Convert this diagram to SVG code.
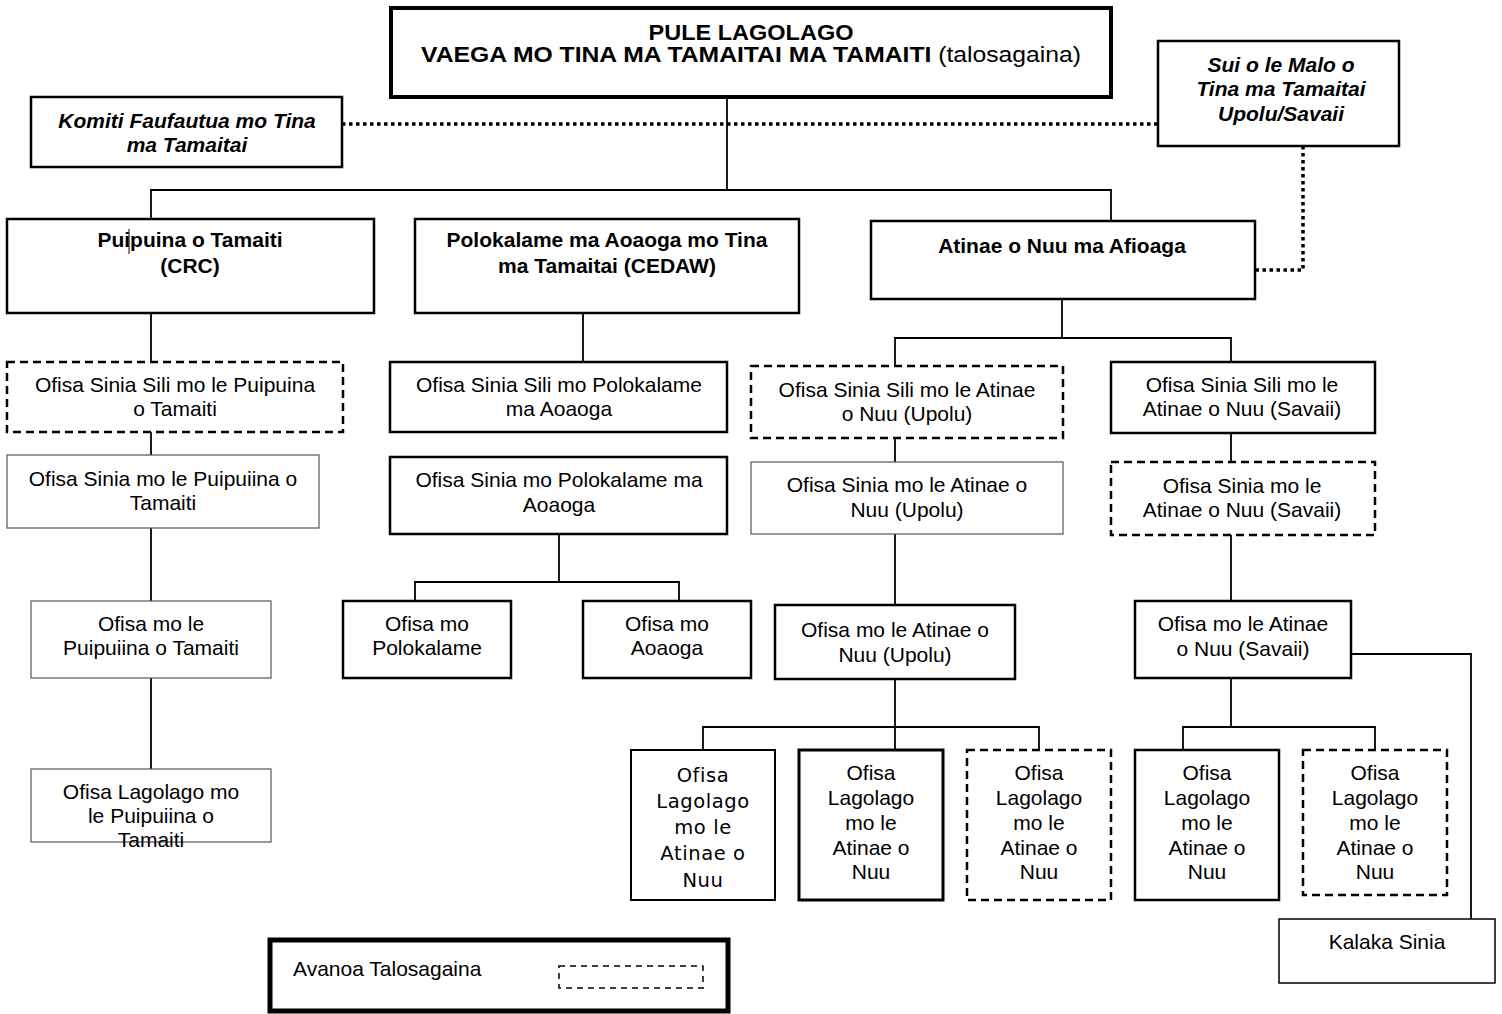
<svg xmlns="http://www.w3.org/2000/svg" width="1502" height="1014" viewBox="0 0 1502 1014">
<style>
text{font-family:"Liberation Sans",Arial,sans-serif;font-size:21px;fill:#000;text-anchor:middle}
.b{font-weight:bold}
.bi{font-weight:bold;font-style:italic}
.t{font-weight:bold;font-size:22px}
.g{font-family:"DejaVu Sans","Liberation Sans",sans-serif;font-size:19.5px;letter-spacing:0.6px}
rect{fill:#fff;stroke:#000}
.thin{stroke-width:1.2;stroke:#555}
.med{stroke-width:2.5}
.thick{stroke-width:3}
.dash{stroke-width:2.5;stroke-dasharray:8 5}
.conn line,.conn polyline{stroke:#000;stroke-width:1.8;fill:none}
.conn .dot{stroke-width:3.5;stroke-dasharray:3.5 3.5}
</style>
<rect x="0" y="0" width="1502" height="1014" style="fill:#fff;stroke:none"/>
<g class="conn" id="connectors">
<line class="dot" x1="342" y1="124" x2="1158" y2="124"/>
<polyline class="dot" points="1303,146 1303,270 1255,270"/>
<line x1="727" y1="97" x2="727" y2="190"/>
<polyline points="151,219 151,190 1111,190 1111,221"/>
<line x1="151" y1="313" x2="151" y2="362"/>
<line x1="151" y1="432" x2="151" y2="455"/>
<line x1="151" y1="528" x2="151" y2="601"/>
<line x1="151" y1="678" x2="151" y2="769"/>
<line x1="583" y1="313" x2="583" y2="362"/>
<line x1="559" y1="534" x2="559" y2="582"/>
<polyline points="415,601 415,582 679,582 679,601"/>
<line x1="1062" y1="299" x2="1062" y2="338"/>
<polyline points="895,366 895,338 1231,338 1231,362"/>
<line x1="895" y1="438" x2="895" y2="462"/>
<line x1="895" y1="534" x2="895" y2="605"/>
<line x1="895" y1="679" x2="895" y2="750"/>
<polyline points="703,750 703,727 1039,727 1039,750"/>
<line x1="1231" y1="433" x2="1231" y2="462"/>
<line x1="1231" y1="535" x2="1231" y2="601"/>
<line x1="1231" y1="678" x2="1231" y2="727"/>
<polyline points="1183,750 1183,727 1375,727 1375,750"/>
<polyline points="1351,654 1471,654 1471,919"/>
</g>
<g id="pule">
<rect x="391" y="8" width="720" height="89" style="stroke-width:4"/>
<text class="t" x="751" y="40" textLength="205" lengthAdjust="spacingAndGlyphs">PULE LAGOLAGO</text>
<text class="t" x="751" y="62" textLength="660" lengthAdjust="spacingAndGlyphs">VAEGA MO TINA MA TAMAITAI MA TAMAITI <tspan font-weight="normal">(talosagaina)</tspan></text>
</g>
<g id="komiti">
<rect class="med" x="31" y="97" width="311" height="70"/>
<text class="bi" x="187" y="128">Komiti Faufautua mo Tina</text>
<text class="bi" x="187" y="152">ma Tamaitai</text>
</g>
<g id="sui">
<rect class="med" x="1158" y="41" width="241" height="105"/>
<text class="bi" x="1281" y="72">Sui o le Malo o</text>
<text class="bi" x="1281" y="96">Tina ma Tamaitai</text>
<text class="bi" x="1281" y="121">Upolu/Savaii</text>
</g>
<g id="puipuina">
<rect class="med" x="7" y="219" width="367" height="94"/>
<text class="b" x="190" y="247">Puipuina o Tamaiti</text>
<text class="b" x="190" y="273">(CRC)</text>
<line x1="129" y1="229" x2="129" y2="254" style="stroke:#000;stroke-width:1"/>
</g>
<g id="polokalame">
<rect class="med" x="415" y="219" width="384" height="94"/>
<text class="b" x="607" y="247">Polokalame ma Aoaoga mo Tina</text>
<text class="b" x="607" y="273">ma Tamaitai (CEDAW)</text>
</g>
<g id="atinae">
<rect class="med" x="871" y="221" width="384" height="78"/>
<text class="b" x="1062" y="253">Atinae o Nuu ma Afioaga</text>
</g>
<g id="p1">
<rect class="dash" x="7" y="362" width="336" height="70"/>
<text x="175" y="392">Ofisa Sinia Sili mo le Puipuina</text>
<text x="175" y="416">o Tamaiti</text>
</g>
<g id="p2">
<rect class="thin" x="7" y="455" width="312" height="73"/>
<text x="163" y="486">Ofisa Sinia mo le Puipuiina o</text>
<text x="163" y="510">Tamaiti</text>
</g>
<g id="p3">
<rect class="thin" x="31" y="601" width="240" height="77"/>
<text x="151" y="631">Ofisa mo le</text>
<text x="151" y="655">Puipuiina o Tamaiti</text>
</g>
<g id="p4">
<rect class="thin" x="31" y="769" width="240" height="73"/>
<text x="151" y="799">Ofisa Lagolago mo</text>
<text x="151" y="823">le Puipuiina o</text>
<text x="151" y="847">Tamaiti</text>
</g>
<g id="c1">
<rect class="med" x="390" y="362" width="337" height="70"/>
<text x="559" y="392">Ofisa Sinia Sili mo Polokalame</text>
<text x="559" y="416">ma Aoaoga</text>
</g>
<g id="c2">
<rect class="med" x="390" y="457" width="337" height="77"/>
<text x="559" y="487">Ofisa Sinia mo Polokalame ma</text>
<text x="559" y="512">Aoaoga</text>
</g>
<g id="c3">
<rect class="med" x="343" y="601" width="168" height="77"/>
<text x="427" y="631">Ofisa mo</text>
<text x="427" y="655">Polokalame</text>
</g>
<g id="c4">
<rect class="med" x="583" y="601" width="168" height="77"/>
<text x="667" y="631">Ofisa mo</text>
<text x="667" y="655">Aoaoga</text>
</g>
<g id="u1">
<rect class="dash" x="751" y="366" width="312" height="72"/>
<text x="907" y="397">Ofisa Sinia Sili mo le Atinae</text>
<text x="907" y="421">o Nuu (Upolu)</text>
</g>
<g id="u2">
<rect class="thin" x="751" y="462" width="312" height="72"/>
<text x="907" y="492">Ofisa Sinia mo le Atinae o</text>
<text x="907" y="517">Nuu (Upolu)</text>
</g>
<g id="u3">
<rect class="med" x="775" y="605" width="240" height="74"/>
<text x="895" y="637">Ofisa mo le Atinae o</text>
<text x="895" y="662">Nuu (Upolu)</text>
</g>
<g id="u4">
<rect class="med" x="631" y="750" width="144" height="150" style="stroke-width:2"/>
<text class="g" x="703" y="782">Ofisa</text>
<text class="g" x="703" y="808">Lagolago</text>
<text class="g" x="703" y="834">mo le</text>
<text class="g" x="703" y="860">Atinae o</text>
<text class="g" x="703" y="887">Nuu</text>
</g>
<g id="u5">
<rect class="thick" x="799" y="750" width="144" height="150"/>
<text x="871" y="780">Ofisa</text>
<text x="871" y="805">Lagolago</text>
<text x="871" y="830">mo le</text>
<text x="871" y="855">Atinae o</text>
<text x="871" y="879">Nuu</text>
</g>
<g id="u6">
<rect class="dash" x="967" y="750" width="144" height="150"/>
<text x="1039" y="780">Ofisa</text>
<text x="1039" y="805">Lagolago</text>
<text x="1039" y="830">mo le</text>
<text x="1039" y="855">Atinae o</text>
<text x="1039" y="879">Nuu</text>
</g>
<g id="s1">
<rect class="med" x="1111" y="362" width="264" height="71"/>
<text x="1242" y="392">Ofisa Sinia Sili mo le</text>
<text x="1242" y="416">Atinae o Nuu (Savaii)</text>
</g>
<g id="s2">
<rect class="dash" x="1111" y="462" width="264" height="73"/>
<text x="1242" y="493">Ofisa Sinia mo le</text>
<text x="1242" y="517">Atinae o Nuu (Savaii)</text>
</g>
<g id="s3">
<rect class="med" x="1135" y="601" width="216" height="77"/>
<text x="1243" y="631">Ofisa mo le Atinae</text>
<text x="1243" y="656">o Nuu (Savaii)</text>
</g>
<g id="s4">
<rect class="med" x="1135" y="750" width="144" height="150"/>
<text x="1207" y="780">Ofisa</text>
<text x="1207" y="805">Lagolago</text>
<text x="1207" y="830">mo le</text>
<text x="1207" y="855">Atinae o</text>
<text x="1207" y="879">Nuu</text>
</g>
<g id="s5">
<rect class="dash" x="1303" y="750" width="144" height="145"/>
<text x="1375" y="780">Ofisa</text>
<text x="1375" y="805">Lagolago</text>
<text x="1375" y="830">mo le</text>
<text x="1375" y="855">Atinae o</text>
<text x="1375" y="879">Nuu</text>
</g>
<g id="kalaka">
<rect x="1279" y="919" width="216" height="64" style="stroke-width:1.5"/>
<text x="1387" y="949">Kalaka Sinia</text>
</g>
<g id="legend">
<rect x="270" y="940" width="458" height="71" style="stroke-width:5"/>
<text x="293" y="976" style="text-anchor:start">Avanoa Talosagaina</text>
<rect x="559" y="966" width="144" height="22" style="stroke-width:1.5;stroke-dasharray:6 5"/>
</g>
</svg>
